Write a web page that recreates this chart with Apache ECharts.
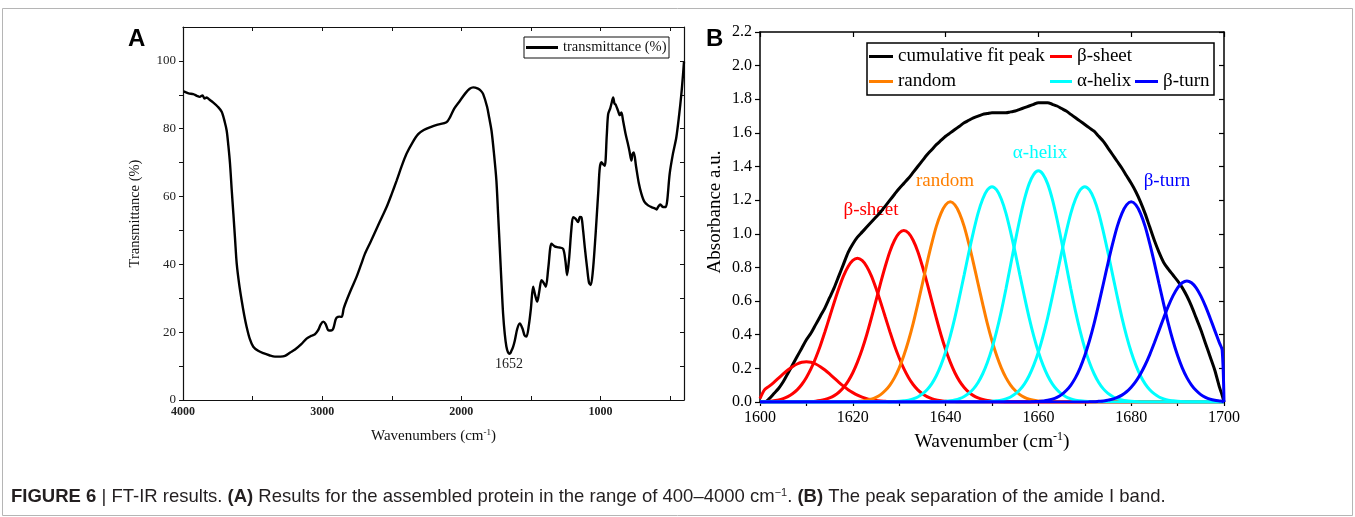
<!DOCTYPE html>
<html>
<head>
<meta charset="utf-8">
<title>FT-IR results</title>
<script src="https://cdn.jsdelivr.net/npm/echarts@6/dist/echarts.min.js"></script>
<style>
  html, body { margin: 0; padding: 0; background: #fff; }
  #main { width: 1355px; height: 517px; }
</style>
</head>
<body>
<div id="main"></div>
<script>
// (A) FT-IR spectrum
const wavenumberA = [3995, 3960, 3926, 3900, 3880, 3860, 3845, 3830, 3810, 3782, 3750, 3722, 3700, 3686, 3674, 3662, 3650, 3638, 3626, 3614,
  3596, 3579, 3560, 3543, 3520, 3495, 3460, 3423, 3380, 3339, 3300, 3267, 3230, 3195, 3150, 3112, 3080, 3052, 3030, 3010,
  2992, 2975, 2956, 2935, 2920, 2905, 2896, 2875, 2860, 2845, 2824, 2790, 2753, 2720, 2693, 2650, 2609, 2570, 2537, 2500,
  2465, 2430, 2394, 2350, 2310, 2270, 2226, 2170, 2107, 2080, 2050, 2011, 1970, 1940, 1915, 1880, 1860, 1843, 1815, 1800,
  1783, 1765, 1748, 1736, 1724, 1712, 1700, 1688, 1676, 1664, 1652, 1640, 1628, 1616, 1598, 1580, 1560, 1545, 1532, 1515,
  1500, 1484, 1470, 1455, 1440, 1424, 1408, 1393, 1375, 1352, 1330, 1300, 1269, 1252, 1240, 1225, 1210, 1197, 1180, 1161,
  1148, 1137, 1125, 1113, 1095, 1082, 1070, 1055, 1040, 1029, 1015, 1005, 993, 980, 969, 955, 945, 930, 920, 909,
  900, 890, 874, 862, 850, 838, 820, 800, 790, 778, 770, 761, 745, 725, 706, 685, 658, 630, 610, 598,
  585, 570, 555, 540, 531, 520, 503, 480, 455, 435, 419, 407, 400]
const transmittance = [91.0, 90.4, 90.2, 89.7, 89.4, 89.8, 88.9, 89.2, 88.6, 87.7, 86.5, 85.0, 82.0, 79.4, 75.0, 69.6, 62.0, 54.9, 47.5, 40.2,
  34.0, 29.5, 25.0, 21.6, 18.0, 15.7, 14.5, 13.8, 13.2, 12.8, 12.8, 13.0, 14.0, 14.9, 16.5, 18.1, 18.9, 19.4, 20.5, 22.3,
  23.1, 22.4, 20.6, 20.5, 21.1, 23.5, 24.3, 24.6, 24.5, 27.0, 29.4, 32.8, 36.3, 40.0, 43.1, 46.8, 50.5, 54.0, 56.9, 60.8,
  64.7, 68.8, 72.6, 76.0, 78.4, 79.6, 80.4, 81.2, 81.9, 83.5, 86.0, 88.2, 90.5, 91.8, 92.2, 91.8, 91.2, 90.2, 86.5, 83.3,
  79.4, 72.5, 64.7, 55.0, 45.1, 35.0, 25.5, 19.5, 15.7, 14.0, 13.6, 14.5, 15.7, 17.5, 21.0, 22.6, 21.0, 19.0, 18.7, 22.0,
  27.0, 33.4, 31.0, 29.0, 32.0, 35.3, 34.5, 33.4, 39.0, 46.1, 45.3, 45.0, 44.6, 41.0, 36.8, 42.0, 50.0, 53.9, 53.5, 52.5,
  54.0, 53.9, 50.0, 45.1, 38.5, 34.5, 33.9, 38.0, 46.0, 52.9, 62.0, 68.5, 70.1, 69.5, 69.1, 78.0, 84.3, 86.0, 87.6, 89.2,
  87.5, 87.0, 85.3, 84.0, 84.8, 82.4, 78.5, 75.0, 73.0, 70.6, 72.5, 73.0, 69.0, 64.0, 60.8, 58.5, 57.4, 56.8, 56.5, 56.2,
  57.0, 57.7, 57.0, 56.9, 56.9, 59.0, 66.7, 72.5, 77.5, 84.0, 90.2, 96.0, 99.8]
const ticksA = [1000, 2000, 3000, 4000]
const minorTicksA = [500, 1000, 1500, 2000, 2500, 3000, 3500, 4000]
const ticksAy = [0, 20, 40, 60, 80, 100]
const minorTicksAy = [0, 10, 20, 30, 40, 50, 60, 70, 80, 90, 100]

// (B) amide I band peak separation, one row per 10 cm-1, then 1699.6 and 1700
const wavenumberB = [
  1600, 1601, 1602, 1603, 1604, 1605, 1606, 1607, 1608, 1609,
  1610, 1611, 1612, 1613, 1614, 1615, 1616, 1617, 1618, 1619,
  1620, 1621, 1622, 1623, 1624, 1625, 1626, 1627, 1628, 1629,
  1630, 1631, 1632, 1633, 1634, 1635, 1636, 1637, 1638, 1639,
  1640, 1641, 1642, 1643, 1644, 1645, 1646, 1647, 1648, 1649,
  1650, 1651, 1652, 1653, 1654, 1655, 1656, 1657, 1658, 1659,
  1660, 1661, 1662, 1663, 1664, 1665, 1666, 1667, 1668, 1669,
  1670, 1671, 1672, 1673, 1674, 1675, 1676, 1677, 1678, 1679,
  1680, 1681, 1682, 1683, 1684, 1685, 1686, 1687, 1688, 1689,
  1690, 1691, 1692, 1693, 1694, 1695, 1696, 1697, 1698, 1699,
  1699.6, 1700]
const cumulativeFit = [
  0, 0, 0.02, 0.05, 0.08, 0.12, 0.17, 0.22, 0.27, 0.32,
  0.37, 0.41, 0.46, 0.51, 0.56, 0.62, 0.68, 0.75, 0.82, 0.89,
  0.94, 0.98, 1.01, 1.04, 1.07, 1.10, 1.13, 1.165, 1.20, 1.235,
  1.27, 1.30, 1.33, 1.365, 1.40, 1.435, 1.47, 1.50, 1.53, 1.555,
  1.58, 1.60, 1.62, 1.64, 1.66, 1.675, 1.69, 1.70, 1.71, 1.715,
  1.72, 1.72, 1.72, 1.72, 1.725, 1.73, 1.74, 1.75, 1.76, 1.77,
  1.78, 1.78, 1.78, 1.77, 1.76, 1.745, 1.73, 1.71, 1.69, 1.67,
  1.65, 1.63, 1.61, 1.58, 1.55, 1.51, 1.47, 1.43, 1.39, 1.345,
  1.30, 1.25, 1.19, 1.12, 1.04, 0.96, 0.89, 0.83, 0.79, 0.755,
  0.72, 0.68, 0.63, 0.57, 0.50, 0.43, 0.35, 0.27, 0.19, 0.09,
  0.04, 0]
const sheet1 = [
  0.02, 0.073, 0.094, 0.117, 0.142, 0.167, 0.190, 0.210, 0.226, 0.236,
  0.240, 0.236, 0.226, 0.210, 0.190, 0.167, 0.142, 0.117, 0.094, 0.073,
  0.056, 0.041, 0.029, 0.020, 0.014, 0.009, 0.006, 0.004, 0.002, 0.001,
  0, 0, 0, 0, 0, 0, 0, 0, 0, 0,
  0, 0, 0, 0, 0, 0, 0, 0, 0, 0,
  0, 0, 0, 0, 0, 0, 0, 0, 0, 0,
  0, 0, 0, 0, 0, 0, 0, 0, 0, 0,
  0, 0, 0, 0, 0, 0, 0, 0, 0, 0,
  0, 0, 0, 0, 0, 0, 0, 0, 0, 0,
  0, 0, 0, 0, 0, 0, 0, 0, 0, 0,
  0, 0]
const sheet2 = [
  0.001, 0.002, 0.004, 0.008, 0.012, 0.020, 0.032, 0.049, 0.072, 0.104,
  0.146, 0.198, 0.262, 0.335, 0.418, 0.505, 0.593, 0.676, 0.750, 0.806,
  0.842, 0.855, 0.842, 0.806, 0.750, 0.676, 0.593, 0.505, 0.418, 0.335,
  0.262, 0.198, 0.146, 0.104, 0.072, 0.049, 0.032, 0.020, 0.012, 0.008,
  0.004, 0.002, 0.001, 0, 0, 0, 0, 0, 0, 0,
  0, 0, 0, 0, 0, 0, 0, 0, 0, 0,
  0, 0, 0, 0, 0, 0, 0, 0, 0, 0,
  0, 0, 0, 0, 0, 0, 0, 0, 0, 0,
  0, 0, 0, 0, 0, 0, 0, 0, 0, 0,
  0, 0, 0, 0, 0, 0, 0, 0, 0, 0,
  0, 0]
const sheet3 = [
  0, 0, 0, 0, 0, 0, 0, 0, 0, 0,
  0.002, 0.003, 0.005, 0.009, 0.015, 0.024, 0.038, 0.058, 0.086, 0.124,
  0.174, 0.237, 0.312, 0.400, 0.499, 0.603, 0.708, 0.807, 0.895, 0.962,
  1.005, 1.020, 1.005, 0.962, 0.895, 0.807, 0.708, 0.603, 0.499, 0.400,
  0.312, 0.237, 0.174, 0.124, 0.086, 0.058, 0.038, 0.024, 0.015, 0.009,
  0.005, 0.003, 0.002, 0, 0, 0, 0, 0, 0, 0,
  0, 0, 0, 0, 0, 0, 0, 0, 0, 0,
  0, 0, 0, 0, 0, 0, 0, 0, 0, 0,
  0, 0, 0, 0, 0, 0, 0, 0, 0, 0,
  0, 0, 0, 0, 0, 0, 0, 0, 0, 0,
  0, 0]
const randomCoil = [
  0, 0, 0, 0, 0, 0, 0, 0, 0, 0,
  0, 0, 0, 0, 0, 0, 0, 0, 0, 0,
  0.002, 0.003, 0.006, 0.010, 0.017, 0.028, 0.044, 0.068, 0.101, 0.145,
  0.203, 0.276, 0.364, 0.466, 0.582, 0.703, 0.826, 0.941, 1.044, 1.122,
  1.172, 1.190, 1.172, 1.122, 1.044, 0.941, 0.826, 0.703, 0.582, 0.466,
  0.364, 0.276, 0.203, 0.145, 0.101, 0.068, 0.044, 0.028, 0.017, 0.010,
  0.006, 0.003, 0.002, 0, 0, 0, 0, 0, 0, 0,
  0, 0, 0, 0, 0, 0, 0, 0, 0, 0,
  0, 0, 0, 0, 0, 0, 0, 0, 0, 0,
  0, 0, 0, 0, 0, 0, 0, 0, 0, 0,
  0, 0]
const helix1 = [
  0, 0, 0, 0, 0, 0, 0, 0, 0, 0,
  0, 0, 0, 0, 0, 0, 0, 0, 0, 0,
  0, 0, 0, 0, 0, 0, 0, 0, 0, 0.002,
  0.004, 0.007, 0.011, 0.019, 0.030, 0.048, 0.073, 0.108, 0.156, 0.219,
  0.297, 0.392, 0.502, 0.626, 0.756, 0.888, 1.012, 1.123, 1.207, 1.261,
  1.280, 1.261, 1.207, 1.123, 1.012, 0.888, 0.756, 0.626, 0.502, 0.392,
  0.297, 0.219, 0.156, 0.108, 0.073, 0.048, 0.030, 0.019, 0.011, 0.007,
  0.004, 0.002, 0, 0, 0, 0, 0, 0, 0, 0,
  0, 0, 0, 0, 0, 0, 0, 0, 0, 0,
  0, 0, 0, 0, 0, 0, 0, 0, 0, 0,
  0, 0]
const helix2 = [
  0, 0, 0, 0, 0, 0, 0, 0, 0, 0,
  0, 0, 0, 0, 0, 0, 0, 0, 0, 0,
  0, 0, 0, 0, 0, 0, 0, 0, 0, 0,
  0, 0, 0, 0, 0, 0, 0, 0, 0, 0.002,
  0.004, 0.007, 0.012, 0.020, 0.033, 0.051, 0.078, 0.116, 0.168, 0.235,
  0.319, 0.421, 0.539, 0.672, 0.813, 0.954, 1.088, 1.206, 1.297, 1.354,
  1.375, 1.354, 1.297, 1.206, 1.088, 0.954, 0.813, 0.672, 0.539, 0.421,
  0.319, 0.235, 0.168, 0.116, 0.078, 0.051, 0.033, 0.020, 0.012, 0.007,
  0.004, 0.002, 0, 0, 0, 0, 0, 0, 0, 0,
  0, 0, 0, 0, 0, 0, 0, 0, 0, 0,
  0, 0]
const helix3 = [
  0, 0, 0, 0, 0, 0, 0, 0, 0, 0,
  0, 0, 0, 0, 0, 0, 0, 0, 0, 0,
  0, 0, 0, 0, 0, 0, 0, 0, 0, 0,
  0, 0, 0, 0, 0, 0, 0, 0, 0, 0,
  0, 0, 0, 0, 0, 0, 0, 0, 0, 0.002,
  0.004, 0.007, 0.011, 0.019, 0.030, 0.048, 0.073, 0.108, 0.156, 0.219,
  0.297, 0.392, 0.502, 0.626, 0.756, 0.888, 1.012, 1.123, 1.207, 1.261,
  1.280, 1.261, 1.207, 1.123, 1.012, 0.888, 0.756, 0.626, 0.502, 0.392,
  0.297, 0.219, 0.156, 0.108, 0.073, 0.048, 0.030, 0.019, 0.011, 0.007,
  0.004, 0.002, 0, 0, 0, 0, 0, 0, 0, 0,
  0, 0]
const turn1 = [
  0, 0, 0, 0, 0, 0, 0, 0, 0, 0,
  0, 0, 0, 0, 0, 0, 0, 0, 0, 0,
  0, 0, 0, 0, 0, 0, 0, 0, 0, 0,
  0, 0, 0, 0, 0, 0, 0, 0, 0, 0,
  0, 0, 0, 0, 0, 0, 0, 0, 0, 0,
  0, 0, 0, 0, 0, 0, 0, 0, 0, 0.002,
  0.003, 0.006, 0.010, 0.017, 0.028, 0.044, 0.068, 0.101, 0.145, 0.203,
  0.276, 0.364, 0.466, 0.582, 0.703, 0.826, 0.941, 1.044, 1.122, 1.172,
  1.190, 1.172, 1.122, 1.044, 0.941, 0.826, 0.703, 0.582, 0.466, 0.364,
  0.276, 0.203, 0.145, 0.101, 0.068, 0.044, 0.028, 0.017, 0.010, 0.006,
  0.004, 0]
const turn2 = [
  0, 0, 0, 0, 0, 0, 0, 0, 0, 0,
  0, 0, 0, 0, 0, 0, 0, 0, 0, 0,
  0, 0, 0, 0, 0, 0, 0, 0, 0, 0,
  0, 0, 0, 0, 0, 0, 0, 0, 0, 0,
  0, 0, 0, 0, 0, 0, 0, 0, 0, 0,
  0, 0, 0, 0, 0, 0, 0, 0, 0, 0,
  0, 0, 0, 0, 0, 0, 0, 0, 0, 0,
  0, 0.001, 0.002, 0.004, 0.006, 0.011, 0.017, 0.027, 0.041, 0.061,
  0.088, 0.123, 0.167, 0.220, 0.282, 0.352, 0.426, 0.500, 0.570, 0.631,
  0.679, 0.709, 0.720, 0.709, 0.679, 0.631, 0.570, 0.500, 0.426, 0.352,
  0.31, 0]

const serif = "'Liberation Serif', 'Times New Roman', serif"
const sans = "'Liberation Sans', Arial, sans-serif"

const chartInstance = echarts.init(document.getElementById('main'))

function pairs(xs, ys) {
  return xs.map((x, i) => [x, ys[i]])
}

function bandSeries(name, color, values) {
  return {
    name: name,
    type: 'line',
    xAxisIndex: 2,
    yAxisIndex: 2,
    data: pairs(wavenumberB, values),
    symbol: 'none',
    smooth: 0.3,
    lineStyle: { color: color, width: 3 },
    itemStyle: { color: color },
    silent: true,
    clip: true
  }
}

const axisLineA = { show: true, onZero: false, lineStyle: { color: '#111', width: 1.2 } }
const axisLineB = { show: true, onZero: false, lineStyle: { color: '#000', width: 1.5 } }

const option = {
  animation: false,
  backgroundColor: '#fff',
  grid: [
    { left: 183, top: 27, width: 501, height: 373 },
    { left: 760, top: 32, width: 464, height: 370 }
  ],
  xAxis: [
    {
      gridIndex: 0, type: 'value', min: 400, max: 4000, inverse: true, position: 'bottom',
      name: 'Wavenumbers (cm{sup|-1})', nameLocation: 'middle', nameGap: 28,
      nameTextStyle: { fontFamily: serif, fontSize: 15, color: '#111', rich: { sup: { fontFamily: serif, fontSize: 9, verticalAlign: 'top', padding: [0, 0, 7, 0] } } },
      axisLine: axisLineA,
      axisTick: { inside: true, length: 4, customValues: minorTicksA, lineStyle: { color: '#111' } },
      axisLabel: { customValues: ticksA, margin: 6, fontFamily: serif, fontSize: 12, fontWeight: 'bold', color: '#222', formatter: v => String(v) },
      splitLine: { show: false }
    },
    {
      gridIndex: 0, type: 'value', min: 400, max: 4000, inverse: true, position: 'top',
      axisLine: axisLineA,
      axisTick: { inside: true, length: 4, customValues: minorTicksA, lineStyle: { color: '#111' } },
      axisLabel: { show: false },
      splitLine: { show: false }
    },
    {
      gridIndex: 1, type: 'value', min: 1600, max: 1700, interval: 10, position: 'bottom',
      name: 'Wavenumber (cm{sup|-1})', nameLocation: 'middle', nameGap: 29,
      nameTextStyle: { fontFamily: serif, fontSize: 19.5, color: '#000', rich: { sup: { fontFamily: serif, fontSize: 12, verticalAlign: 'top', padding: [0, 0, 9, 0] } } },
      axisLine: axisLineB,
      axisTick: { inside: false, length: 4, lineStyle: { color: '#000', width: 1.2 } },
      axisLabel: { margin: 8, fontFamily: serif, fontSize: 16, color: '#000', formatter: v => (v % 20 === 0 ? String(v) : '') },
      splitLine: { show: false }
    },
    {
      gridIndex: 1, type: 'value', min: 1600, max: 1700, interval: 20, position: 'top',
      axisLine: axisLineB,
      axisTick: { inside: true, length: 5, lineStyle: { color: '#000', width: 1.2 } },
      axisLabel: { show: false },
      splitLine: { show: false }
    }
  ],
  yAxis: [
    {
      gridIndex: 0, type: 'value', min: 0, max: 110, position: 'left',
      name: 'Transmittance (%)', nameLocation: 'middle', nameGap: 40,
      nameTextStyle: { fontFamily: serif, fontSize: 14.5, color: '#111' },
      axisLine: axisLineA,
      axisTick: { inside: false, length: 4, customValues: minorTicksAy, lineStyle: { color: '#111' } },
      axisLabel: { customValues: ticksAy, margin: 7, fontFamily: serif, fontSize: 13, color: '#222' },
      splitLine: { show: false }
    },
    {
      gridIndex: 0, type: 'value', min: 0, max: 110, position: 'right',
      axisLine: axisLineA,
      axisTick: { inside: true, length: 4, customValues: minorTicksAy, lineStyle: { color: '#111' } },
      axisLabel: { show: false },
      splitLine: { show: false }
    },
    {
      gridIndex: 1, type: 'value', min: 0, max: 2.2, interval: 0.2, position: 'left',
      name: 'Absorbance a.u.', nameLocation: 'middle', nameGap: 35,
      nameTextStyle: { fontFamily: serif, fontSize: 19, color: '#000', padding: [0, 0, 0, 10] },
      axisLine: axisLineB,
      axisTick: { inside: false, length: 5, lineStyle: { color: '#000', width: 1.2 } },
      axisLabel: { margin: 8, fontFamily: serif, fontSize: 16, color: '#000', formatter: v => v.toFixed(1) },
      splitLine: { show: false }
    },
    {
      gridIndex: 1, type: 'value', min: 0, max: 2.2, interval: 0.2, position: 'right',
      axisLine: axisLineB,
      axisTick: { inside: true, length: 5, lineStyle: { color: '#000', width: 1.2 } },
      axisLabel: { show: false },
      splitLine: { show: false }
    }
  ],
  legend: [
    {
      data: ['transmittance (%)'], left: 526, top: 40, padding: 0, selectedMode: false,
      icon: 'rect', itemWidth: 32, itemHeight: 3,
      textStyle: { fontFamily: serif, fontSize: 14.5, color: '#111' }
    },
    {
      data: ['cumulative fit peak'], left: 869, top: 47, padding: 0, selectedMode: false,
      icon: 'rect', itemWidth: 24, itemHeight: 3,
      textStyle: { fontFamily: serif, fontSize: 19, color: '#000' }
    },
    {
      data: ['β-sheet'], left: 1050, top: 47, padding: 0, selectedMode: false,
      icon: 'rect', itemWidth: 22, itemHeight: 3,
      textStyle: { fontFamily: serif, fontSize: 19, color: '#000' }
    },
    {
      data: ['random'], left: 869, top: 72, padding: 0, selectedMode: false,
      icon: 'rect', itemWidth: 24, itemHeight: 3,
      textStyle: { fontFamily: serif, fontSize: 19, color: '#000' }
    },
    {
      data: ['α-helix'], left: 1050, top: 72, padding: 0, selectedMode: false,
      icon: 'rect', itemWidth: 22, itemHeight: 3,
      textStyle: { fontFamily: serif, fontSize: 19, color: '#000' }
    },
    {
      data: ['β-turn'], left: 1135, top: 72, padding: 0, selectedMode: false,
      icon: 'rect', itemWidth: 23, itemHeight: 3,
      textStyle: { fontFamily: serif, fontSize: 19, color: '#000' }
    }
  ],
  graphic: [
    { type: 'rect', shape: { x: 2.5, y: 8.5, width: 1350, height: 507 }, style: { fill: 'none', stroke: '#b5b5b5', lineWidth: 1 }, silent: true },
    { type: 'rect', shape: { x: 524, y: 37, width: 145, height: 21 }, style: { fill: 'none', stroke: '#111', lineWidth: 1 }, silent: true },
    { type: 'rect', shape: { x: 867, y: 43, width: 347, height: 52 }, style: { fill: 'none', stroke: '#000', lineWidth: 1.5 }, silent: true },
    { type: 'text', x: 128, y: 27, style: { text: 'A', font: 'bold 24px ' + sans, fill: '#000' }, silent: true },
    { type: 'text', x: 706, y: 27, style: { text: 'B', font: 'bold 24px ' + sans, fill: '#000' }, silent: true },
    { type: 'text', x: 509, y: 364, style: { text: '1652', font: '14px ' + serif, fill: '#222', align: 'center', verticalAlign: 'middle' }, silent: true },
    { type: 'text', x: 871, y: 210, style: { text: 'β-sheet', font: '19px ' + serif, fill: '#ff0000', align: 'center', verticalAlign: 'middle' }, silent: true },
    { type: 'text', x: 945, y: 181, style: { text: 'random', font: '19px ' + serif, fill: '#ff7f00', align: 'center', verticalAlign: 'middle' }, silent: true },
    { type: 'text', x: 1040, y: 153, style: { text: 'α-helix', font: '19px ' + serif, fill: '#00ffff', align: 'center', verticalAlign: 'middle' }, silent: true },
    { type: 'text', x: 1167, y: 181, style: { text: 'β-turn', font: '19px ' + serif, fill: '#0000ff', align: 'center', verticalAlign: 'middle' }, silent: true },
    {
      type: 'text', x: 11, y: 497, silent: true,
      style: {
        text: '{b|FIGURE 6} | FT-IR results. {b|(A)} Results for the assembled protein in the range of 400–4000 cm{sup|−1}. {b|(B)} The peak separation of the amide I band.',
        font: '18.5px ' + sans, fill: '#231f20', verticalAlign: 'middle',
        rich: {
          b: { font: 'bold 18.5px ' + sans, fill: '#231f20' },
          sup: { font: '11px ' + sans, fill: '#231f20', verticalAlign: 'top', padding: [0, 0, 7, 0] }
        }
      }
    }
  ],
  series: [
    {
      name: 'transmittance (%)',
      type: 'line',
      xAxisIndex: 0,
      yAxisIndex: 0,
      data: pairs(wavenumberA, transmittance),
      symbol: 'none',
      smooth: 0.3,
      lineStyle: { color: '#000', width: 2.4 },
      itemStyle: { color: '#000' },
      silent: true
    },
    bandSeries('cumulative fit peak', '#000000', cumulativeFit),
    bandSeries('β-sheet', '#ff0000', sheet1),
    bandSeries('β-sheet', '#ff0000', sheet2),
    bandSeries('β-sheet', '#ff0000', sheet3),
    bandSeries('random', '#ff7f00', randomCoil),
    bandSeries('α-helix', '#00ffff', helix1),
    bandSeries('α-helix', '#00ffff', helix2),
    bandSeries('α-helix', '#00ffff', helix3),
    bandSeries('β-turn', '#0000ff', turn1),
    bandSeries('β-turn', '#0000ff', turn2)
  ]
}

chartInstance.setOption(option)
</script>
</body>
</html>
